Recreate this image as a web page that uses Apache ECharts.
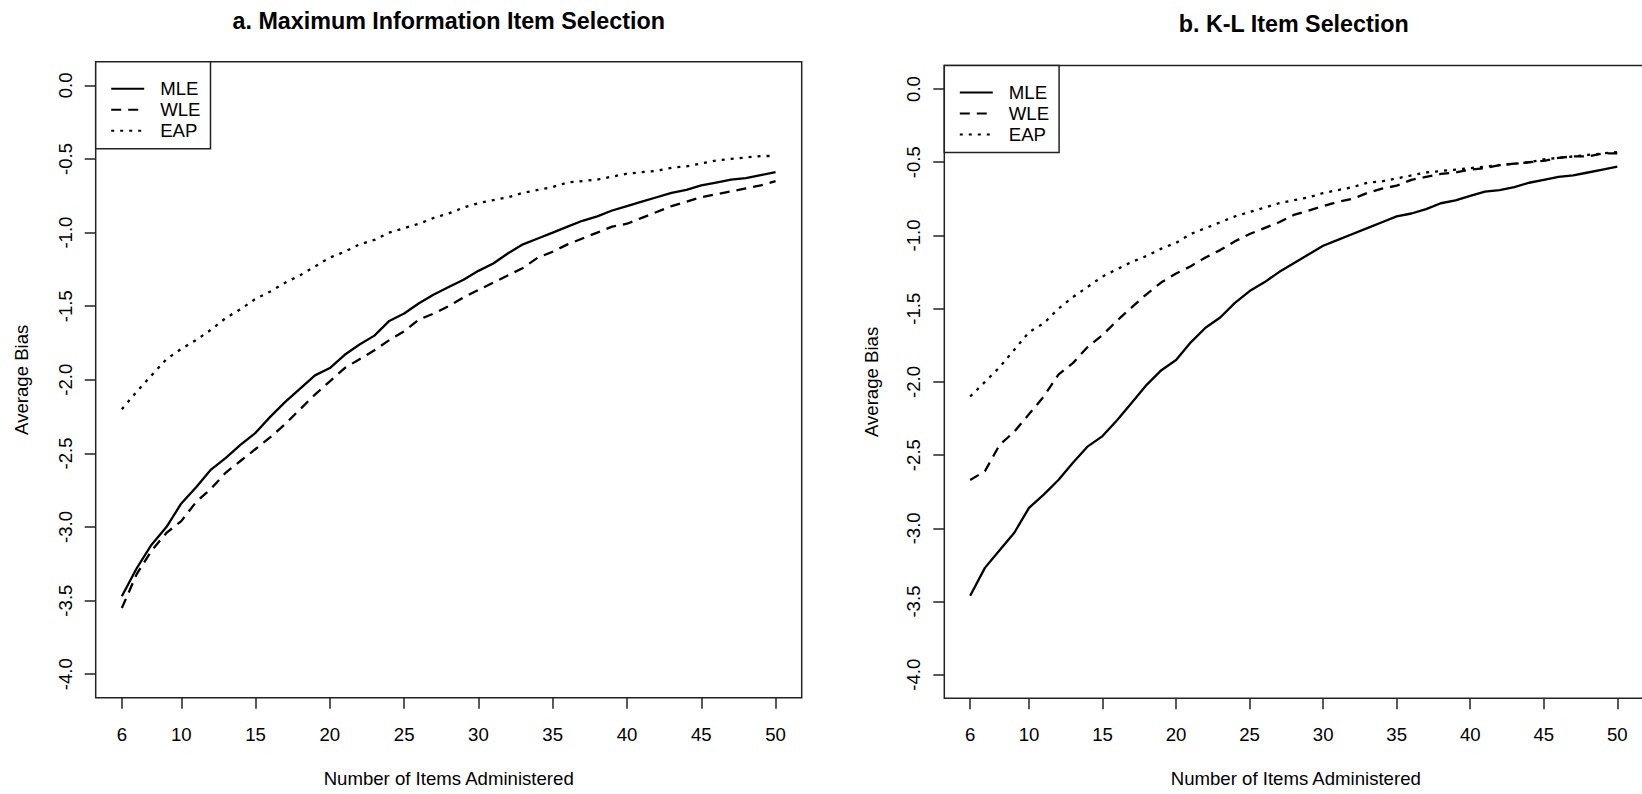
<!DOCTYPE html>
<html>
<head>
<meta charset="utf-8">
<script src="https://cdn.jsdelivr.net/npm/echarts@6/dist/echarts.min.js"></script>
<style>
html,body{margin:0;padding:0;background:#fff;}
#chart{width:1642px;height:794px;}
</style>
</head>
<body>
<div id="chart"></div>
<script>
// Number of items administered
const items = [6,7,8,9,10,11,12,13,14,15,16,17,18,19,20,21,22,23,24,25,26,27,28,29,30,31,32,33,34,35,36,37,38,39,40,41,42,43,44,45,46,47,48,49,50];

// Panel a: Maximum Information Item Selection
const miMLE = [-3.47,-3.28,-3.12,-3.00,-2.84,-2.73,-2.61,-2.53,-2.44,-2.36,-2.25,-2.15,-2.06,-1.97,-1.92,-1.83,-1.76,-1.70,-1.60,-1.55,-1.48,-1.42,-1.37,-1.32,-1.26,-1.21,-1.14,-1.08,-1.04,-1.00,-0.96,-0.92,-0.89,-0.85,-0.82,-0.79,-0.76,-0.73,-0.71,-0.68,-0.66,-0.64,-0.63,-0.61,-0.59];
const miWLE = [-3.55,-3.32,-3.16,-3.04,-2.96,-2.83,-2.74,-2.63,-2.55,-2.47,-2.39,-2.30,-2.20,-2.10,-2.01,-1.92,-1.86,-1.80,-1.73,-1.67,-1.59,-1.55,-1.50,-1.44,-1.39,-1.34,-1.29,-1.24,-1.17,-1.13,-1.08,-1.04,-1.00,-0.96,-0.94,-0.90,-0.86,-0.82,-0.79,-0.76,-0.74,-0.72,-0.70,-0.68,-0.65];
const miEAP = [-2.20,-2.08,-1.97,-1.86,-1.79,-1.73,-1.66,-1.58,-1.52,-1.45,-1.40,-1.34,-1.29,-1.23,-1.17,-1.13,-1.08,-1.05,-1.00,-0.97,-0.94,-0.90,-0.87,-0.83,-0.80,-0.78,-0.76,-0.73,-0.71,-0.69,-0.66,-0.65,-0.64,-0.62,-0.60,-0.59,-0.58,-0.56,-0.55,-0.53,-0.51,-0.50,-0.49,-0.48,-0.48];

// Panel b: K-L Item Selection
const klMLE = [-3.46,-3.27,-3.15,-3.03,-2.86,-2.77,-2.67,-2.55,-2.44,-2.37,-2.26,-2.14,-2.02,-1.92,-1.85,-1.73,-1.63,-1.56,-1.46,-1.38,-1.32,-1.25,-1.19,-1.13,-1.07,-1.03,-0.99,-0.95,-0.91,-0.87,-0.85,-0.82,-0.78,-0.76,-0.73,-0.70,-0.69,-0.67,-0.64,-0.62,-0.60,-0.59,-0.57,-0.55,-0.53];
const klWLE = [-2.67,-2.61,-2.43,-2.34,-2.22,-2.10,-1.95,-1.87,-1.76,-1.68,-1.58,-1.49,-1.40,-1.32,-1.26,-1.21,-1.15,-1.10,-1.04,-0.99,-0.95,-0.91,-0.86,-0.83,-0.80,-0.77,-0.75,-0.71,-0.68,-0.66,-0.62,-0.60,-0.58,-0.57,-0.55,-0.54,-0.52,-0.51,-0.50,-0.49,-0.47,-0.46,-0.46,-0.44,-0.44];
const klEAP = [-2.10,-2.00,-1.90,-1.78,-1.66,-1.60,-1.50,-1.42,-1.35,-1.28,-1.23,-1.18,-1.14,-1.09,-1.05,-0.99,-0.95,-0.91,-0.87,-0.84,-0.81,-0.78,-0.76,-0.74,-0.71,-0.69,-0.67,-0.64,-0.63,-0.61,-0.59,-0.57,-0.56,-0.55,-0.54,-0.53,-0.52,-0.51,-0.50,-0.48,-0.47,-0.46,-0.45,-0.44,-0.43];

// Tick values
const xTicks = [6,10,15,20,25,30,35,40,45,50];
const yTicks = [-4,-3.5,-3,-2.5,-2,-1.5,-1,-0.5,0];

const titles = ['a. Maximum Information Item Selection', 'b. K-L Item Selection'];
const seriesNames = ['MLE','WLE','EAP'];

const FONT = '"Liberation Sans", Arial, Helvetica, sans-serif';
const FS = 18.6;
const FRAME = '#222';

function pairs(vals){ return items.map((x,i)=>[x, vals[i]]); }

const dashStyles = {
  MLE: 'solid',
  WLE: [10,7],
  EAP: [3,6]
};

function mkSeries(name, vals, idx){
  return {
    type:'line', name:name, data:pairs(vals),
    xAxisIndex:idx, yAxisIndex:idx,
    symbol:'none', smooth:false, silent:true,
    lineStyle:{color:'#000', width:2.3, type:dashStyles[name], cap:'butt'},
    itemStyle:{color:'#000'}
  };
}

const grids = [
  {left:95.7, top:61.8, width:706, height:636, show:true, borderColor:FRAME, borderWidth:1.5,
   backgroundColor:'transparent', outerBoundsMode:'none', containLabel:false},
  {left:944.3, top:65.6, width:703, height:632.6, show:true, borderColor:FRAME, borderWidth:1.5,
   backgroundColor:'transparent', outerBoundsMode:'none', containLabel:false}
];

function mkX(idx, max, gap){
  return {
    type:'value', gridIndex:idx, min:4.24, max:max,
    name:'Number of Items Administered', nameLocation:'middle', nameGap:gap,
    nameTextStyle:{fontSize:FS, color:'#000', fontFamily:FONT},
    axisLine:{show:false, onZero:false},
    axisTick:{show:true, length:11, customValues:xTicks, lineStyle:{color:FRAME, width:1.5}},
    axisLabel:{show:true, customValues:xTicks, margin:27, fontSize:FS, color:'#000', fontFamily:FONT},
    splitLine:{show:false}
  };
}
function mkY(idx, gap){
  return {
    type:'value', gridIndex:idx, min:-4.16, max:0.16,
    name:'Average Bias', nameLocation:'middle', nameGap:gap,
    nameTextStyle:{fontSize:FS, color:'#000', fontFamily:FONT},
    axisLine:{show:false, onZero:false},
    axisTick:{show:true, length:11, customValues:yTicks, lineStyle:{color:FRAME, width:1.5}},
    axisLabel:{show:true, customValues:yTicks, rotate:90, margin:21, fontSize:FS, color:'#000', fontFamily:FONT,
      formatter:function(v){ return Number(v).toFixed(1); }},
    splitLine:{show:false}
  };
}

function mkLegend(left, top){
  return {
    data:seriesNames, orient:'vertical', left:left, top:top,
    padding:[17.5, 10, 8.5, 14.5], itemGap:2, itemWidth:33, itemHeight:14,
    borderColor:FRAME, borderWidth:1.5, backgroundColor:'#fff',
    selectedMode:false,
    itemStyle:{opacity:0},
    lineStyle:{opacity:1},
    textStyle:{fontSize:FS, color:'#000', fontFamily:FONT, lineHeight:19, padding:[0,0,0,11]}
  };
}

const chart = echarts.init(document.getElementById('chart'), null, {renderer:'svg'});
chart.setOption({
  animation:false,
  backgroundColor:'#fff',
  textStyle:{fontFamily:FONT},
  title:[
    {text:titles[0], left:448.7, top:9.4, textAlign:'center', padding:0,
     textStyle:{fontSize:23.3, fontWeight:'bold', color:'#000', fontFamily:FONT}},
    {text:titles[1], left:1293.7, top:12.4, textAlign:'center', padding:0,
     textStyle:{fontSize:23.3, fontWeight:'bold', color:'#000', fontFamily:FONT}}
  ],
  legend:[mkLegend(95.7, 61.8), mkLegend(944.3, 65.6)],
  grid:grids,
  xAxis:[mkX(0, 51.76, 71), mkX(1, 52.04, 71)],
  yAxis:[mkY(0, 65), mkY(1, 63)],
  series:[
    mkSeries('MLE', miMLE, 0), mkSeries('WLE', miWLE, 0), mkSeries('EAP', miEAP, 0),
    mkSeries('MLE', klMLE, 1), mkSeries('WLE', klWLE, 1), mkSeries('EAP', klEAP, 1)
  ]
});
</script>
</body>
</html>
